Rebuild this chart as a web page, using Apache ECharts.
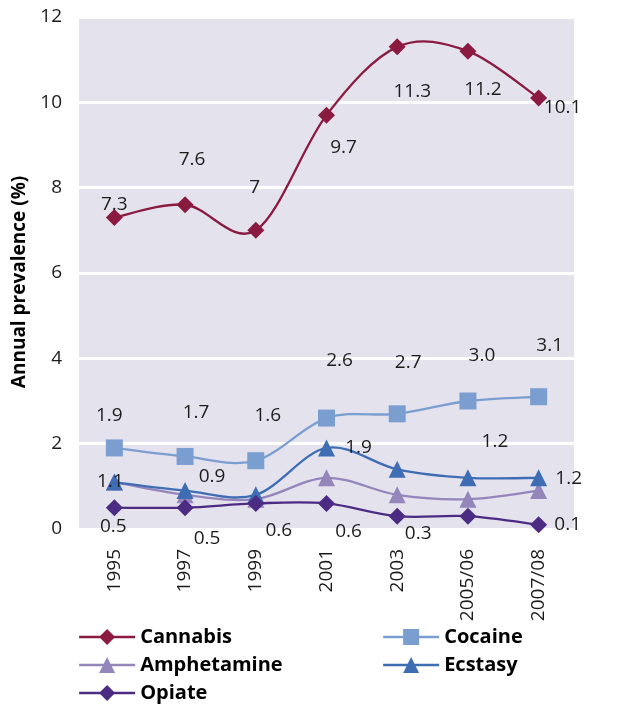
<!DOCTYPE html>
<html>
<head>
<meta charset="utf-8">
<title>Annual prevalence</title>
<script src="https://cdn.jsdelivr.net/npm/echarts@6/dist/echarts.min.js"></script>
<style>
  html, body { margin: 0; padding: 0; background: #ffffff; }
  #chart { width: 622px; height: 708px; }
</style>
</head>
<body>
<div id="chart"></div>
<script>
// Survey years
const years = ['1995', '1997', '1999', '2001', '2003', '2005/06', '2007/08'];

// Annual prevalence (%) per drug
const cannabis    = [7.3, 7.6, 7.0, 9.7, 11.3, 11.2, 10.1];
const cocaine     = [1.9, 1.7, 1.6, 2.6, 2.7, 3.0, 3.1];
const amphetamine = [1.1, 0.8, 0.7, 1.2, 0.8, 0.7, 0.9];
const ecstasy     = [1.1, 0.9, 0.8, 1.9, 1.4, 1.2, 1.2];
const opiate      = [0.5, 0.5, 0.6, 0.6, 0.3, 0.3, 0.1];

// Value-axis ticks
const yTicks = [0, 2, 4, 6, 8, 10, 12];

// Label placement relative to each point (null = no label)
const labelOffsets = {
  Cannabis:    [[0, -13], [7, -45], [-1, -43], [17, 32], [15, 45], [15, 38], [24, 10]],
  Cocaine:     [[-5, -32], [11, -44], [12, -45], [13, -57], [11, -51], [14, -45], [11, -51]],
  Amphetamine: [null, null, null, null, null, null, null],
  Ecstasy:     [[-4, 0], [27, -14], null, [32, 0], null, [27, -36], [30, 1]],
  Opiate:      [[-1, 19], [22, 31], [23, 27], [22, 28], [21, 17], null, [29, 0]]
};

const FONT = '"Open Sans", "Noto Sans", sans-serif';
const LINE_W = 2.3;

const drugs = [
  { name: 'Cannabis',    values: cannabis,    color: '#8a1a40', symbol: 'diamond',  size: 17 },
  { name: 'Cocaine',     values: cocaine,     color: '#7b9ed1', symbol: 'rect',     size: 17 },
  { name: 'Amphetamine', values: amphetamine, color: '#9485ba', symbol: 'triangle', size: 17 },
  { name: 'Ecstasy',     values: ecstasy,     color: '#3e6db4', symbol: 'triangle', size: 17 },
  { name: 'Opiate',      values: opiate,      color: '#4c2b83', symbol: 'diamond',  size: 17 }
];

function fmt(name, v) {
  if (name === 'Cannabis') return String(v);
  return v.toFixed(1);
}

function buildData(name, values) {
  return values.map(function (v, i) {
    const off = labelOffsets[name][i];
    if (!off) return { value: v, label: { show: false } };
    return {
      value: v,
      label: { show: true, position: 'inside', offset: off, formatter: fmt(name, v) }
    };
  });
}

// Smooth curve through the points (Catmull-Rom as cubic Bezier segments),
// each segment placed with the chart's own coordinate system.
function curveSeries(d, z) {
  const vals = d.values;
  const n = vals.length;
  return {
    name: d.name + ' curve',
    type: 'custom',
    silent: true,
    z: z,
    data: vals.map(function (v, i) { return [i, v]; }),
    encode: { x: 0, y: 1 },
    renderItem: function (params, api) {
      const i = params.dataIndex;
      if (i >= n - 1) return null;
      const at = function (k) {
        k = Math.max(0, Math.min(n - 1, k));
        return api.coord([k, vals[k]]);
      };
      const p0 = at(i - 1), p1 = at(i), p2 = at(i + 1), p3 = at(i + 2);
      const t = 1 / 6;
      return {
        type: 'bezierCurve',
        shape: {
          x1: p1[0], y1: p1[1],
          x2: p2[0], y2: p2[1],
          cpx1: p1[0] + (p2[0] - p0[0]) * t,
          cpy1: p1[1] + (p2[1] - p0[1]) * t,
          cpx2: p2[0] - (p3[0] - p1[0]) * t,
          cpy2: p2[1] - (p3[1] - p1[1]) * t
        },
        style: { stroke: d.color, lineWidth: LINE_W, fill: null, lineCap: 'round' }
      };
    }
  };
}

function pointSeries(d, z) {
  return {
    name: d.name,
    type: 'line',
    data: buildData(d.name, d.values),
    symbol: d.symbol,
    symbolSize: d.size,
    showAllSymbol: true,
    z: z,
    lineStyle: { color: d.color, width: 0, opacity: 0 },
    itemStyle: { color: d.color },
    label: { color: '#1c1c1c', fontSize: 19, fontFamily: FONT },
    emphasis: { disabled: true }
  };
}

const series = [];
drugs.forEach(function (d, k) {
  series.push(curveSeries(d, 2 + k * 2));
  series.push(pointSeries(d, 3 + k * 2));
});

function legendItems(names) {
  return names.map(function (nm) {
    const d = drugs.find(function (x) { return x.name === nm; });
    return { name: nm, lineStyle: { color: d.color, width: LINE_W, opacity: 1 } };
  });
}

const legendText = {
  color: '#000000',
  fontSize: 20,
  fontWeight: 'bold',
  fontFamily: FONT
};

const chart = echarts.init(document.getElementById('chart'));

chart.setOption({
  animation: false,
  grid: {
    left: 79,
    right: 48,
    top: 17,
    bottom: 179,
    show: true,
    backgroundColor: '#e4e2ed',
    borderWidth: 0
  },
  legend: [
    {
      data: legendItems(['Cannabis', 'Amphetamine', 'Opiate']),
      orient: 'vertical',
      left: 78,
      top: 627,
      padding: 0,
      itemWidth: 56,
      itemHeight: 20,
      itemGap: 8,
      textStyle: legendText,
      selectedMode: false
    },
    {
      data: legendItems(['Cocaine', 'Ecstasy']),
      orient: 'vertical',
      left: 382,
      top: 627,
      padding: 0,
      itemWidth: 56,
      itemHeight: 20,
      itemGap: 8,
      textStyle: legendText,
      selectedMode: false
    }
  ],
  xAxis: {
    type: 'category',
    data: years,
    boundaryGap: true,
    axisLine: { show: false },
    axisTick: { show: false },
    axisLabel: {
      rotate: 90,
      margin: 20,
      color: '#1c1c1c',
      fontSize: 19,
      fontFamily: FONT
    },
    splitLine: { show: false }
  },
  yAxis: {
    type: 'value',
    min: yTicks[0],
    max: yTicks[yTicks.length - 1],
    interval: yTicks[1] - yTicks[0],
    name: 'Annual prevalence (%)',
    nameLocation: 'middle',
    nameGap: 47,
    nameRotate: 90,
    nameTextStyle: {
      color: '#000000',
      fontSize: 19,
      fontWeight: 'bold',
      fontFamily: FONT,
      padding: [0, 18, 0, 0]
    },
    axisLine: { show: false },
    axisTick: { show: false },
    axisLabel: {
      margin: 17,
      color: '#1c1c1c',
      fontSize: 19,
      fontFamily: FONT
    },
    splitLine: { show: true, lineStyle: { color: '#ffffff', width: 3 } }
  },
  series: series
});
</script>
</body>
</html>
